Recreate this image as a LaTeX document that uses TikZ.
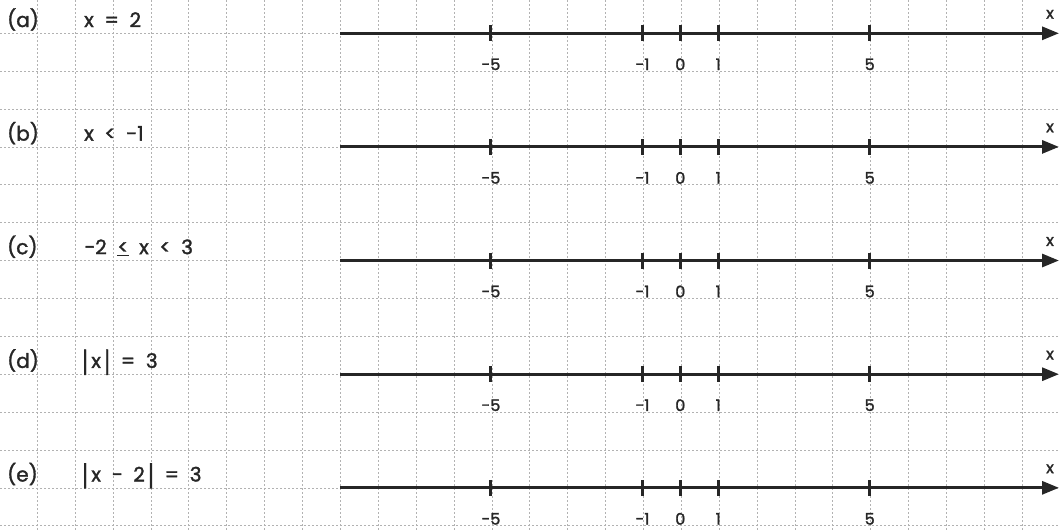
\documentclass[tikz,border=0pt]{standalone}
\usepackage{fontspec}
\setmainfont{Poppins}[FakeBold=1.6]
\usetikzlibrary{arrows.meta}
\newcommand\tallbar{\raisebox{-4pt}{\scalebox{1}[1.4]{|}}}
\newcommand\drawaxis[2]{%
  \coordinate (#1s) at (340.3,#2);
  \coordinate (#1e) at (1059,#2);
  \draw[axisline] (#1s) -- (#1e);
  \foreach \v/\t [count=\c] in {-5/{-5},-1/{-1},0/0,1/1,5/5} {
    \draw[tickmark] ({680.3+37.88*\v},#2-8) -- ({680.3+37.88*\v},#2+8);
    \node[num] (#1n\c) at ({680.3+37.88*\v},#2+31) {\t};
  }
  \node[num] (#1x) at (1050,#2-19) {x};
}
\begin{document}
\begin{tikzpicture}[x=1pt,y=-1pt,
  gridline/.style={draw=black!30, line width=0.7pt, dash pattern=on 2pt off 2pt},
  axisline/.style={draw=black!85, line width=3pt, -{Triangle[length=17pt,width=13pt]}},
  tickmark/.style={draw=black!85, line width=3pt},
  lbl/.style={font=\fontsize{20}{22}\selectfont, anchor=base west, inner sep=0pt, text=black!85},
  num/.style={font=\fontsize{16}{18}\selectfont, inner sep=0pt, text=black!85},
]
\useasboundingbox (0,0) rectangle (1059,531);
\begin{scope}
\clip (0,0) rectangle (1059,531);
\foreach \i in {0,...,27} \draw[gridline] ({37.3+37.88*\i},0) -- ({37.3+37.88*\i},531);
\foreach \j in {0,...,13} \draw[gridline] (0,{33.3+37.88*\j}) -- (1059,{33.3+37.88*\j});
\end{scope}
% rows
\drawaxis{a}{33.3}
\drawaxis{b}{146.9}
\drawaxis{c}{260.5}
\drawaxis{d}{374.2}
\drawaxis{e}{487.8}
\node[lbl] (la) at (7,27) {(a)};
\node[lbl] (ea) at (84,27) {x\ \ =\ \ 2};
\node[lbl] (lb) at (7,140.6) {(b)};
\node[lbl] (eb) at (84,140.6) {x\ \ <\ \ -1};
\node[lbl] (lc) at (7,254.2) {(c)};
\node[lbl] (ec) at (84,254.2) {−2\ \ \underline{<}\ \ x\ \ <\ \ 3};
\node[lbl] (ld) at (7,367.9) {(d)};
\node[lbl] (ed) at (82,367.9) {\tallbar\,x\,\tallbar\ \ =\ \ 3};
\node[lbl] (le) at (7,481.5) {(e)};
\node[lbl] (ee) at (82,481.5) {\tallbar\,x\ \ −\ \ 2\,\tallbar\ \ =\ \ 3};
\end{tikzpicture}
\end{document}
